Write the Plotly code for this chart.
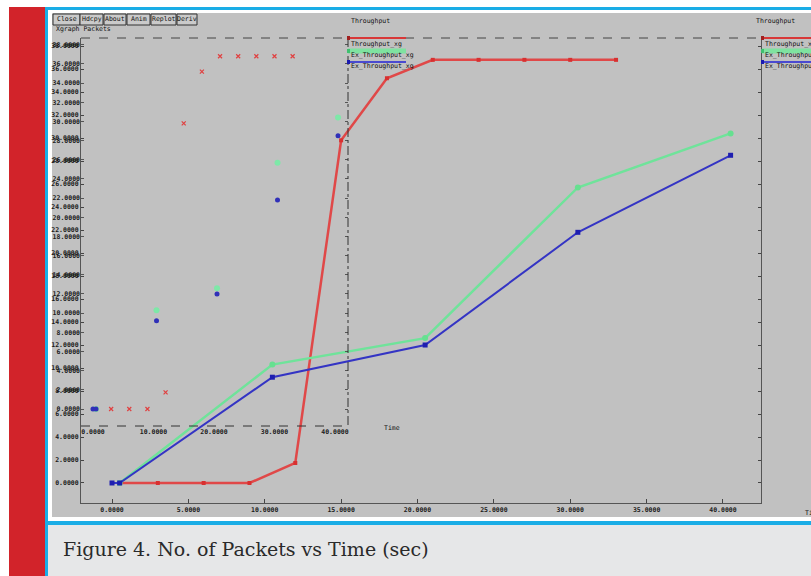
import plotly.graph_objects as go

W, H = 811, 576

# ---- data ----
time_red = [0.5, 3, 6, 9, 12, 15, 18, 21, 24, 27, 30, 33]
thr_red = [0, 0, 0, 0, 1.74, 29.8, 35.2, 36.8, 36.8, 36.8, 36.8, 36.8]

time_green = [0.5, 10.5, 20.5, 30.5, 40.5]
thr_green = [0, 10.3, 12.6, 25.7, 30.4]

time_blue = [0, 0.5, 10.5, 20.5, 30.5, 40.5]
thr_blue = [0, 0, 9.2, 12.0, 21.8, 28.5]

series_names = ["Throughput_xg", "Ex_Throughput_xg", "Ex_Throughput_xg"]
x_ticks_main = [0, 5, 10, 15, 20, 25, 30, 35, 40]
x_ticks_inner = [0, 10, 20, 30, 40]
y_ticks = list(range(0, 40, 2))
buttons = ["Close", "Hdcpy", "About", "Anim", "Replot", "Deriv"]
caption = "Figure 4. No. of Packets vs Time (sec)"

RED, GREEN, BLUE = "#e04848", "#6fe39a", "#3434c4"
MONO = "DejaVu Sans Mono"


def X(px):
    return px / W


def Y(py):
    return 1 - py / H


fig = go.Figure()

# main window (lines)
fig.add_trace(go.Scatter(x=time_red, y=thr_red, mode="lines+markers", name=series_names[0],
                         line=dict(color=RED, width=2.5),
                         marker=dict(symbol="square", size=4, color="#d83030"),
                         xaxis="x", yaxis="y"))
fig.add_trace(go.Scatter(x=time_green, y=thr_green, mode="lines+markers", name=series_names[1],
                         line=dict(color=GREEN, width=2.5),
                         marker=dict(symbol="circle", size=6, color="#66e090"),
                         xaxis="x", yaxis="y"))
fig.add_trace(go.Scatter(x=time_blue, y=thr_blue, mode="lines+markers", name=series_names[2],
                         line=dict(color=BLUE, width=2),
                         marker=dict(symbol="square", size=5, color="#1e1eb0"),
                         xaxis="x", yaxis="y"))

# overlapping smaller window (markers only)
fig.add_trace(go.Scatter(x=time_red, y=thr_red, mode="markers", name=series_names[0],
                         marker=dict(symbol="x-thin", size=4, color="#e04040",
                                     line=dict(color="#e04040", width=1.2)),
                         xaxis="x2", yaxis="y2"))
fig.add_trace(go.Scatter(x=time_green, y=thr_green, mode="markers", name=series_names[1],
                         marker=dict(symbol="circle", size=6, color="#7ee8a8"),
                         xaxis="x2", yaxis="y2"))
fig.add_trace(go.Scatter(x=time_blue, y=thr_blue, mode="markers", name=series_names[2],
                         marker=dict(symbol="circle", size=5, color="#3030b8"),
                         xaxis="x2", yaxis="y2"))

axis_font = dict(family=MONO, size=6.5, color="#1a1a1a", weight="bold")

fig.update_layout(
    width=W, height=H,
    margin=dict(l=0, r=0, t=0, b=0),
    paper_bgcolor="white",
    plot_bgcolor="rgba(0,0,0,0)",
    showlegend=False,
    xaxis=dict(domain=[X(81), X(761)], range=[-2.03, 42.49], tickvals=x_ticks_main,
               tickformat=".4f", showgrid=False, zeroline=False, showline=True,
               linecolor="#555", linewidth=1, ticks="inside", ticklen=4, tickcolor="#444",
               tickfont=axis_font, anchor="y"),
    yaxis=dict(domain=[Y(503), Y(38)], range=[-1.74, 38.7], tickvals=y_ticks,
               tickformat=".4f", showgrid=False, zeroline=False, showline=True,
               linecolor="#555", linewidth=1, mirror="ticks", ticks="inside", ticklen=3,
               tickcolor="#444", tickfont=axis_font, anchor="x"),
    xaxis2=dict(domain=[X(81), X(348)], range=[-1.98, 42.15], tickvals=x_ticks_inner,
                tickformat=".4f", showgrid=False, zeroline=False, showline=False,
                ticks="", tickfont=axis_font, anchor="y2"),
    yaxis2=dict(domain=[Y(426), Y(38)], range=[-1.77, 38.7], tickvals=y_ticks,
                tickformat=".4f", showgrid=False, zeroline=False, showline=False,
                mirror="ticks", ticks="inside", ticklen=3, tickcolor="#555",
                tickfont=axis_font, anchor="x2"),
)

shapes = []


def rect(x0, y0, x1, y1, fill, line=None, layer="below"):
    shapes.append(dict(type="rect", xref="paper", yref="paper",
                       x0=X(x0), x1=X(x1), y0=Y(y1), y1=Y(y0),
                       fillcolor=fill, line=dict(width=0) if line is None else line,
                       layer=layer))


def seg(x0, y0, x1, y1, color, width=1, dash="solid", layer="above"):
    shapes.append(dict(type="line", xref="paper", yref="paper",
                       x0=X(x0), x1=X(x1), y0=Y(y0), y1=Y(y1),
                       line=dict(color=color, width=width, dash=dash), layer=layer))


# page decoration
rect(9, 7, 45, 576, "#d2232a")
rect(45, 7, 48, 576, "#1aade6")
rect(45, 7, 811, 10, "#1aade6")
rect(52, 13, 811, 517, "#c1c1c1")
rect(45, 521, 811, 525, "#1aade6")
rect(48, 525, 811, 576, "#e6e7e8")

# frames
seg(81, 38, 761, 38, "#444", 1, "dash")
seg(348, 38, 348, 426, "#333", 1, "dashdot")
seg(81, 426, 348, 426, "#333", 1, "dash")

# buttons
bx = [(53, 80), (80, 103), (104, 126), (127, 150), (151, 176), (177, 197)]
for (a, b) in bx:
    rect(a, 14, b, 25, "#cacaca", line=dict(color="#333", width=1), layer="above")

# legends (main and right window)
for lx, lw in [(348, 58), (762, 60)]:
    seg(lx, 38, lx + lw, 38, "#d83838", 2)
    seg(lx, 51, lx + lw, 51, "#7fe3a0", 5)
    seg(lx, 62, lx + lw, 62, "#4a4ad0", 2)
    rect(lx - 1, 36, lx + 2, 40, "#a02020", layer="above")
    rect(lx - 1, 49, lx + 2, 53, "#40c070", layer="above")
    rect(lx - 1, 60, lx + 2, 64, "#1a1ab0", layer="above")

fig.update_layout(shapes=shapes)

ann = []


def text(px, py, s, size=7, anchor="left", color="#111", family=MONO):
    ann.append(dict(xref="paper", yref="paper", x=X(px), y=Y(py), text=s,
                    showarrow=False, xanchor=anchor, yanchor="middle",
                    font=dict(family=family, size=size, color=color)))


for (a, b), name in zip(bx, buttons):
    text((a + b) / 2, 19.5, name, size=6.5, anchor="center")
text(54, 29, "Xgraph Packets", size=6.5)
text(370, 21, "Throughput", size=6.5, anchor="center")
text(775, 21, "Throughput", size=6.5, anchor="center")
for lx in [349, 763]:
    text(lx, 44, series_names[0], size=6.5)
    text(lx, 55, series_names[1], size=6.5)
    text(lx, 66, series_names[2], size=6.5)
text(392, 428, "Time", size=6.5, anchor="center")
text(803, 513, "Time", size=6.5)
text(61, 549, caption, size=19, color="#2a2a2a", family="DejaVu Serif")

fig.update_layout(annotations=ann)

fig.write_html("out.html")
